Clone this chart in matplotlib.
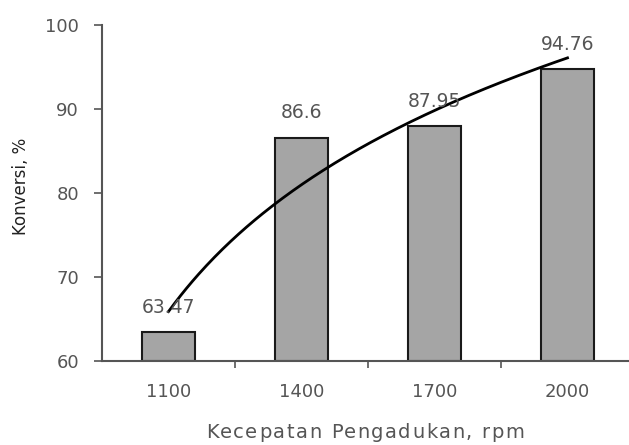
import numpy as np
import matplotlib
matplotlib.use("Agg")
import matplotlib.pyplot as plt
from matplotlib.font_manager import FontProperties

# Stirring speed vs. conversion
speeds = ["1100", "1400", "1700", "2000"]
conversion = [63.47, 86.6, 87.95, 94.76]
value_labels = ["63.47", "86.6", "87.95", "94.76"]
y_ticks = [60, 70, 80, 90, 100]
x_title = "Kecepatan Pengadukan, rpm"
y_title = "Konversi, %"

plt.rcParams["font.family"] = ["DejaVu Sans"]
TXT = "#555555"

fig = plt.figure(figsize=(6.29, 4.45), dpi=100)
ax = fig.add_axes([102 / 629, 84 / 445, 532 / 629, 336 / 445])

x = np.arange(len(speeds))
ax.bar(x, [v - 60 for v in conversion], bottom=60, width=0.4,
       color="#a5a5a5", edgecolor="#1a1a1a", linewidth=1.5, zorder=2)

for xi, v, lab in zip(x, conversion, value_labels):
    ax.annotate(lab, (xi, v), xytext=(0, 11), textcoords="offset points",
                ha="center", va="bottom", fontsize=13.5, color=TXT,
                zorder=4)

# Logarithmic trend line fitted over the category positions
pos = x + 1.0
a, b = np.polyfit(np.log(pos), conversion, 1)
xs = np.linspace(1.0, 4.0, 200)
ax.plot(xs - 1.0, a * np.log(xs) + b, color="black", linewidth=2.0, zorder=3)

ax.set_xlim(-0.5, 3.5)
ax.set_ylim(60, 100)
ax.set_yticks(y_ticks)
ax.set_yticklabels([str(t) for t in y_ticks])
ax.set_xticks(x)
ax.set_xticklabels(speeds)
ax.set_xticks([0.5, 1.5, 2.5], minor=True)

ax.tick_params(axis="y", direction="out", length=5.5, width=1.2,
               color="#555555", labelcolor=TXT, labelsize=13, pad=11)
ax.tick_params(axis="x", which="major", length=0, labelcolor=TXT,
               labelsize=13, pad=16)
ax.tick_params(axis="x", which="minor", direction="out", length=5,
               width=1.2, color="#555555")

for side in ("top", "right"):
    ax.spines[side].set_visible(False)
for side in ("left", "bottom"):
    ax.spines[side].set_color("#555555")
    ax.spines[side].set_linewidth(1.5)

ax.set_ylabel(y_title, fontsize=12, color="#222222")
ax.yaxis.set_label_coords(-72 / 532, 0.52)

# Letter-spaced axis title, laid out character by character
renderer = fig.canvas.get_renderer()
prop = FontProperties(family="DejaVu Sans", size=14)
extra = 1.6  # additional pixels between characters


def text_width(s):
    w_bar, _, _ = renderer.get_text_width_height_descent("|", prop, ismath=False)
    w, _, _ = renderer.get_text_width_height_descent(s + "|", prop, ismath=False)
    return w - w_bar


total = text_width(x_title) + extra * (len(x_title) - 1)
start = 365 - total / 2
for i, ch in enumerate(x_title):
    if ch == " ":
        continue
    px = start + text_width(x_title[:i]) + extra * i
    fig.text(px / 629, 1 - 433 / 445, ch, fontproperties=prop, color=TXT,
             ha="left", va="center")

fig.savefig("out.png", dpi=100)
